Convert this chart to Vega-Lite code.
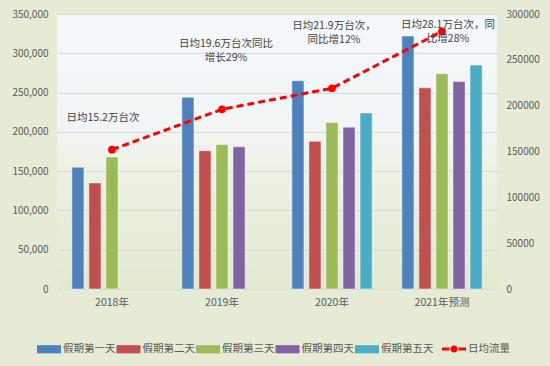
{
  "$schema": "https://vega.github.io/schema/vega-lite/v6.json",
  "width": 440,
  "height": 275,
  "autosize": {"type": "none"},
  "padding": {"left": 57, "top": 14, "right": 53, "bottom": 77},
  "background": "#e5ebd4",
  "view": {"stroke": null, "fill": {"gradient": "linear", "x1": 0, "y1": 0, "x2": 0, "y2": 1, "stops": [{"offset": 0, "color": "#f4f8fc"}, {"offset": 0.4, "color": "#f2f5f5"}, {"offset": 0.55, "color": "#eef2e6"}, {"offset": 1, "color": "#e2e9cf"}]}},
  "config": {
    "font": "Noto Sans CJK SC",
    "axis": {"labelFont": "Noto Sans CJK SC", "labelColor": "#595959", "labelFontSize": 10, "titleFont": "Noto Sans CJK SC"},
    "legend": {"labelFont": "Noto Sans CJK SC"}
  },
  "datasets": {
    "bars": [
      {"year": "2018年", "day": "假期第一天", "value": 155000},
      {"year": "2018年", "day": "假期第二天", "value": 135000},
      {"year": "2018年", "day": "假期第三天", "value": 168000},
      {"year": "2019年", "day": "假期第一天", "value": 244000},
      {"year": "2019年", "day": "假期第二天", "value": 176000},
      {"year": "2019年", "day": "假期第三天", "value": 184000},
      {"year": "2019年", "day": "假期第四天", "value": 181000},
      {"year": "2020年", "day": "假期第一天", "value": 265000},
      {"year": "2020年", "day": "假期第二天", "value": 188000},
      {"year": "2020年", "day": "假期第三天", "value": 212000},
      {"year": "2020年", "day": "假期第四天", "value": 206000},
      {"year": "2020年", "day": "假期第五天", "value": 224000},
      {"year": "2021年预测", "day": "假期第一天", "value": 322000},
      {"year": "2021年预测", "day": "假期第二天", "value": 256000},
      {"year": "2021年预测", "day": "假期第三天", "value": 274000},
      {"year": "2021年预测", "day": "假期第四天", "value": 264000},
      {"year": "2021年预测", "day": "假期第五天", "value": 285000}
    ],
    "avg": [
      {"year": "2018年", "avg": 152000, "note": "日均15.2万台次"},
      {"year": "2019年", "avg": 196000, "note": "日均19.6万台次同比\n增长29%"},
      {"year": "2020年", "avg": 219000, "note": "日均21.9万台次，\n同比增12%"},
      {"year": "2021年预测", "avg": 281000, "note": "日均28.1万台次，同\n比增28%"}
    ]
  },
  "layer": [
    {
      "data": {"name": "bars"},
      "mark": {"type": "bar", "stroke": "#ffffff", "strokeWidth": 0.8, "strokeOpacity": 0.6},
      "encoding": {
        "x": {"field": "year", "type": "nominal", "sort": null,
          "scale": {"paddingInner": 0.27, "paddingOuter": 0.135},
          "axis": {"title": null, "labelAngle": 0, "domain": true, "domainColor": "#d9d9d9", "ticks": false, "labelPadding": 8, "grid": false, "labelFontSize": 10.5}},
        "xOffset": {"field": "day", "type": "nominal", "sort": null,
          "scale": {"domain": ["假期第一天", "假期第二天", "假期第三天", "假期第四天", "假期第五天"], "paddingInner": 0.29, "paddingOuter": 0}},
        "y": {"field": "value", "type": "quantitative",
          "scale": {"domain": [0, 350000]},
          "axis": {"title": null, "values": [0, 50000, 100000, 150000, 200000, 250000, 300000, 350000], "format": ",d", "grid": true, "gridColor": "#d9d9d9", "domain": false, "ticks": false, "labelPadding": 9}},
        "color": {"field": "day", "type": "nominal",
          "scale": {"domain": ["假期第一天", "假期第二天", "假期第三天", "假期第四天", "假期第五天"], "range": ["#4f81bd", "#c0504d", "#9bbb59", "#8064a2", "#4bacc6"]},
          "legend": {"orient": "none", "legendX": -20, "legendY": 323, "direction": "horizontal", "title": null,
            "symbolType": "M-1,-0.34H1V0.34H-1Z", "symbolSize": 576, "symbolStrokeWidth": 0, "symbolOpacity": 1, "labelFontSize": 10.5, "labelColor": "#595959", "labelOffset": 2, "columnPadding": 0.5}}
      }
    },
    {
      "data": {"name": "avg"},
      "layer": [
        {
          "mark": {"type": "line", "color": "#ff0000", "strokeWidth": 3, "point": {"filled": true, "size": 60, "color": "#ff0000"}},
          "encoding": {
            "x": {"field": "year", "type": "nominal", "sort": null},
            "y": {"field": "avg", "type": "quantitative",
              "scale": {"domain": [0, 300000]},
              "axis": {"title": null, "orient": "right", "values": [0, 50000, 100000, 150000, 200000, 250000, 300000], "format": "d", "grid": false, "domain": false, "ticks": false, "labelPadding": 9}},
            "strokeDash": {"datum": "日均流量", "scale": {"range": [[7, 4]]},
              "legend": {"orient": "none", "legendX": 385, "legendY": 323, "title": null,
                "symbolType": "M-1,-0.12H-0.38V0.12H-1ZM0.38,-0.12H1V0.12H0.38ZM-0.3,0A0.3,0.3 0 1,1 0.3,0A0.3,0.3 0 1,1 -0.3,0Z", "symbolSize": 576,
                "symbolDash": [], "symbolStrokeColor": "#ff0000", "symbolFillColor": "#ff0000", "symbolStrokeWidth": 0, "symbolOpacity": 1,
                "labelFontSize": 10.5, "labelColor": "#595959", "labelOffset": 2}}
          }
        },
        {
          "transform": [{"filter": "datum.year === '2018年'"}],
          "mark": {"type": "text", "lineBreak": "\n", "baseline": "top", "fontSize": 10.5, "lineHeight": 14, "color": "#404040", "dx": -9, "dy": -37},
          "encoding": {"x": {"field": "year", "type": "nominal", "sort": null}, "y": {"field": "avg", "type": "quantitative"}, "text": {"field": "note"}}
        },
        {
          "transform": [{"filter": "datum.year === '2019年'"}],
          "mark": {"type": "text", "lineBreak": "\n", "baseline": "top", "fontSize": 10.5, "lineHeight": 14, "color": "#404040", "dx": 4, "dy": -70},
          "encoding": {"x": {"field": "year", "type": "nominal", "sort": null}, "y": {"field": "avg", "type": "quantitative"}, "text": {"field": "note"}}
        },
        {
          "transform": [{"filter": "datum.year === '2020年'"}],
          "mark": {"type": "text", "lineBreak": "\n", "baseline": "top", "fontSize": 10.5, "lineHeight": 14, "color": "#404040", "dx": 2, "dy": -67},
          "encoding": {"x": {"field": "year", "type": "nominal", "sort": null}, "y": {"field": "avg", "type": "quantitative"}, "text": {"field": "note"}}
        },
        {
          "transform": [{"filter": "datum.year === '2021年预测'"}],
          "mark": {"type": "text", "lineBreak": "\n", "baseline": "top", "fontSize": 10.5, "lineHeight": 14, "color": "#404040", "dx": 6, "dy": -11},
          "encoding": {"x": {"field": "year", "type": "nominal", "sort": null}, "y": {"field": "avg", "type": "quantitative"}, "text": {"field": "note"}}
        }
      ]
    }
  ],
  "resolve": {"scale": {"y": "independent"}}
}
